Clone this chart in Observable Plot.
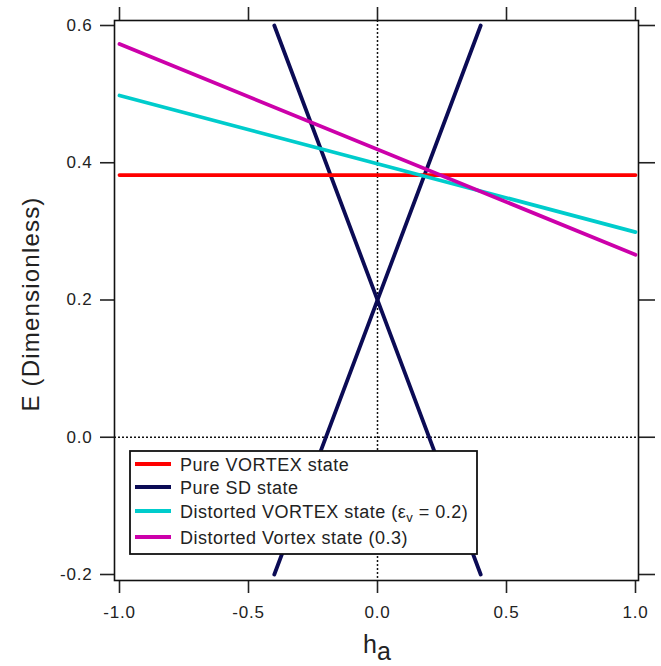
<!DOCTYPE html>
<html>
<head>
<meta charset="utf-8">
<script src="https://cdn.jsdelivr.net/npm/d3@7"></script>
<script src="https://cdn.jsdelivr.net/npm/@observablehq/plot@0.6"></script>
<style>
  body { margin: 0; background: #fff; }
  #chart svg text { letter-spacing: 0.8px; }
</style>
</head>
<body>
<div id="chart"></div>
<script>
// Applied field h_a sampled at the ends of each straight energy line
const ha = [-1, 1];
const pureVortex = [0.382, 0.382];
const distortedVortex02 = [0.498, 0.299];
const distortedVortex03 = [0.573, 0.266];

// Single-domain (SD) state: two branches over a narrower field range
const haSD = [-0.4, 0.4];
const sdRising = [-0.2, 0.6];
const sdFalling = [0.6, -0.2];

const seriesNames = [
  "Pure VORTEX state",
  "Pure SD state",
  "Distorted VORTEX state (0.2)",
  "Distorted Vortex state (0.3)"
];
const seriesColors = ["#ff0000", "#0b0b55", "#00cccc", "#cc00aa"];

const xTicks = [-1, -0.5, 0, 0.5, 1];
const yTicks = [-0.2, 0, 0.2, 0.4, 0.6];

const toRows = (xs, ys, series, part) =>
  xs.map((h, i) => ({ h, e: ys[i], series, part }));

// Draw order: SD branches first, then the vortex lines on top
const rows = [
  ...toRows(haSD, sdRising, seriesNames[1], "sd-rising"),
  ...toRows(haSD, sdFalling, seriesNames[1], "sd-falling"),
  ...toRows(ha, pureVortex, seriesNames[0], "pure"),
  ...toRows(ha, distortedVortex02, seriesNames[2], "d02"),
  ...toRows(ha, distortedVortex03, seriesNames[3], "d03")
];

const fmt = d => d.toFixed(1);

const chart = Plot.plot({
  width: 661,
  height: 666,
  marginLeft: 119,
  marginRight: 26,
  marginTop: 25,
  marginBottom: 92,
  x: { domain: [-1, 1] },
  y: { domain: [-0.2, 0.6] },
  color: { domain: seriesNames, range: seriesColors },
  style: {
    fontFamily: "'Liberation Sans', Arial, sans-serif",
    fontSize: "17px",
    color: "#222",
    background: "#fff",
    overflow: "visible"
  },
  marks: [
    // zero lines
    Plot.ruleX([0], { stroke: "#111", strokeWidth: 1.5, strokeDasharray: "2,2", insetTop: -5, insetBottom: -6 }),
    Plot.ruleY([0], { stroke: "#111", strokeWidth: 1.5, strokeDasharray: "2,2", insetLeft: -5, insetRight: -3 }),
    // axes, standing slightly off the data area
    Plot.axisY({ anchor: "left", ticks: yTicks, tickFormat: fmt, tickSize: 14, tickPadding: 8, dx: -5, label: null, strokeWidth: 1.6, fill: "#222", fontSize: 17 }),
    Plot.axisY({ anchor: "right", ticks: yTicks, tickFormat: () => "", tickSize: 16, dx: 3, label: null, strokeWidth: 1.6 }),
    Plot.axisX({ anchor: "bottom", ticks: xTicks, tickFormat: fmt, tickSize: 13, tickPadding: 12, dy: 6, label: null, strokeWidth: 1.6, fill: "#222", fontSize: 17 }),
    Plot.axisX({ anchor: "top", ticks: xTicks, tickFormat: () => "", tickSize: 14, dy: -5, label: null, strokeWidth: 1.6 }),
    Plot.frame({ stroke: "#111", strokeWidth: 1.6, insetLeft: -5, insetRight: -3, insetTop: -5, insetBottom: -6 }),
    // energy lines
    Plot.line(rows, { x: "h", y: "e", z: "part", stroke: "series", strokeWidth: 3.8 })
  ]
});

document.getElementById("chart").appendChild(chart);

const svg = d3.select(chart);

// Axis titles
svg.append("text")
  .attr("transform", "translate(39,304) rotate(-90)")
  .attr("text-anchor", "middle")
  .attr("fill", "#222")
  .style("font-size", "24px")
  .style("letter-spacing", "1.2px")
  .text("E (Dimensionless)");

const xt = svg.append("text")
  .attr("x", 377)
  .attr("y", 653)
  .attr("text-anchor", "middle")
  .attr("fill", "#222")
  .style("font-size", "25px")
  .style("letter-spacing", "0px");
xt.append("tspan").text("h");
xt.append("tspan").attr("dy", 7).style("font-size", "25px").text("a");

// Legend box inside the plot area
const lg = svg.append("g").attr("transform", "translate(130,451)");
lg.append("rect")
  .attr("width", 347)
  .attr("height", 103)
  .attr("fill", "#fff")
  .attr("stroke", "#111")
  .attr("stroke-width", 1.8);

const rowY = [13, 36, 60, 86];
seriesNames.forEach((name, i) => {
  const g = lg.append("g").attr("transform", `translate(0,${rowY[i]})`);
  g.append("line")
    .attr("x1", 5).attr("x2", 41)
    .attr("stroke", seriesColors[i])
    .attr("stroke-width", 3.8);
  const t = g.append("text")
    .attr("x", 50)
    .attr("y", 7)
    .attr("text-anchor", "start")
    .attr("fill", "#222")
    .style("font-size", "18px")
    .style("letter-spacing", "0.5px");
  if (i === 2) {
    t.append("tspan").text("Distorted VORTEX state (");
    t.append("tspan").text("\u03B5");
    t.append("tspan").attr("dy", 4).style("font-size", "13px").text("v");
    t.append("tspan").attr("dy", -4).text(" = 0.2)");
  } else {
    t.text(name);
  }
});
</script>
</body>
</html>
